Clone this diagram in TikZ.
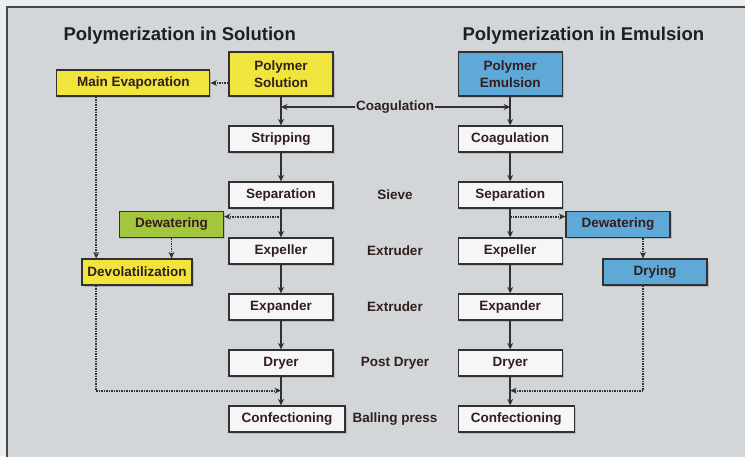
\documentclass[tikz,border=0pt]{standalone}
\usepackage{fontspec}
\setmainfont{Liberation Sans}
\usetikzlibrary{positioning, arrows.meta, shadows}

\definecolor{pagebg}{RGB}{236,237,238}
\definecolor{framebg}{RGB}{211,214,217}
\definecolor{frameline}{RGB}{70,72,75}
\definecolor{boxline}{RGB}{50,48,50}
\definecolor{textdark}{RGB}{50,30,30}
\definecolor{stepfill}{RGB}{246,246,247}
\definecolor{solyellow}{RGB}{240,229,60}
\definecolor{dewgreen}{RGB}{163,198,60}
\definecolor{emulblue}{RGB}{95,169,217}

\tikzset{
	flowpicture/.style = {
		x = 1pt,
		y = -1pt,
		node distance = 28.8pt and 124pt,
		font = \bfseries\fontsize{13.5}{16.5}\selectfont,
		text = textdark,
		arrow/.style = {
			draw = boxline,
			line width = 1.8pt,
			-{Stealth[length = 6.5pt, width = 6pt]}
		},
		dotarrow/.style = {
			dash pattern = on 1.5pt off 1pt
		}
	},
	stepnode/.style = {
		draw = boxline,
		line width = 1.2pt,
		fill = stepfill,
		minimum width = 104pt,
		minimum height = 26pt,
		inner sep = 2pt,
		align = center,
		drop shadow = {shadow xshift = 1.5pt, shadow yshift = -1.5pt, opacity = 0.35}
	},
	solnode/.style = {
		stepnode,
		fill = solyellow
	},
	emulnode/.style = {
		stepnode,
		fill = emulblue
	},
	dewnode/.style = {
		stepnode,
		fill = dewgreen
	},
	titlenode/.style = {
		anchor = west,
		text = black!88,
		font = \bfseries\fontsize{18.5}{20}\selectfont
	},
	devicelabel/.style = {
		inner sep = 1pt
	}
}

\begin{document}
\begin{tikzpicture}[flowpicture]
	\useasboundingbox (0,0) rectangle (745,456);
	\clip (0,0) rectangle (745,456);
	\fill[pagebg] (0,0) rectangle (745,456);
	\draw[frameline, fill = framebg, line width = 1.2pt] (7,7) rectangle (760,470);

	\node[titlenode] (TitleSol) at (60,36) {Polymerization in Solution};
	\node[titlenode] (TitleEmul) at (459,36) {Polymerization in Emulsion};

	% solution line
	\node[solnode, minimum height = 44pt] (PS) at (281,74) {Polymer\\Solution};
	\node[stepnode, below = of PS] (StripL) {Stripping};
	\node[stepnode, below = of StripL] (SepL) {Separation};
	\node[stepnode, below = of SepL] (ExpelL) {Expeller};
	\node[stepnode, below = of ExpelL] (ExpandL) {Expander};
	\node[stepnode, below = of ExpandL] (DryerL) {Dryer};
	\node[stepnode, minimum width = 116pt, below = of DryerL.south west, anchor = north west] (ConfL) {Confectioning};

	\node[solnode, minimum width = 153pt, left = 18pt of PS.south west, anchor = south east] (MainEvap) {Main Evaporation};
	\node[dewnode] (DewL) at (171.5,224.5) {Dewatering};
	\node[solnode, minimum width = 110pt] (Devol) at (137,272) {Devolatilization};

	% emulsion line
	\node[emulnode, minimum height = 44pt, right = of PS] (PE) {Polymer\\Emulsion};
	\node[stepnode, below = of PE] (CoagR) {Coagulation};
	\node[stepnode, below = of CoagR] (SepR) {Separation};
	\node[stepnode, below = of SepR] (ExpelR) {Expeller};
	\node[stepnode, below = of ExpelR] (ExpandR) {Expander};
	\node[stepnode, below = of ExpandR] (DryerR) {Dryer};
	\node[stepnode, minimum width = 116pt, below = of DryerR.south west, anchor = north west] (ConfR) {Confectioning};

	\node[emulnode] (DewR) at (618,224.5) {Dewatering};
	\node[emulnode] (Drying) at (655,272) {Drying};

	% machines in the middle
	\coordinate (midcol) at (395,0);
	\node[devicelabel] (CoagLbl) at (395,107) {Coagulation};
	\node[devicelabel] (SieveLbl) at (midcol |- SepL) {Sieve};
	\node[devicelabel] (ExtrA) at (midcol |- ExpelL) {Extruder};
	\node[devicelabel] (ExtrB) at (midcol |- ExpandL) {Extruder};
	\node[devicelabel] (PostDry) at (midcol |- DryerL) {Post Dryer};
	\node[devicelabel] (Balling) at (midcol |- ConfL) {Balling press};

	\coordinate (evapdrop) at ([xshift = 40pt]MainEvap.south west);
	\coordinate[below = 8pt of SepL] (splitL);
	\coordinate[below = 8pt of SepR] (splitR);
	\coordinate[below = 14pt of DryerL] (mergeL);
	\coordinate[below = 14pt of DryerR] (mergeR);
	\coordinate (dryfeed) at ([xshift = 25pt]DewR.south);

	\begin{scope}[every path/.style = arrow]
		\path (PS) to (StripL);
		\path (StripL) to (SepL);
		\path (SepL) to (ExpelL);
		\path (ExpelL) to (ExpandL);
		\path (ExpandL) to (DryerL);
		\path (DryerL.south) to (DryerL.south |- ConfL.north);

		\path (PE) to (CoagR);
		\path (CoagR) to (SepR);
		\path (SepR) to (ExpelR);
		\path (ExpelR) to (ExpandR);
		\path (ExpandR) to (DryerR);
		\path (DryerR.south) to (DryerR.south |- ConfR.north);

		\path (CoagLbl.west) -- (CoagLbl.west -| PS.south);
		\path (CoagLbl.east) -- (CoagLbl.east -| PE.south);

		\path[dotarrow] (PS.west |- MainEvap) -- (MainEvap.east);
		\path[dotarrow] (evapdrop) -- (evapdrop |- Devol.north);
		\path[dotarrow] (splitL) -- (splitL -| DewL.east);
		\path[dotarrow] (DewL.south) -- (DewL.south |- Devol.north);
		\path[dotarrow] (evapdrop |- Devol.south) |- (mergeL);

		\path[dotarrow] (splitR) -- (splitR -| DewR.west);
		\path[dotarrow] (dryfeed) -- (dryfeed |- Drying.north);
		\path[dotarrow] (dryfeed |- Drying.south) |- (mergeR);
	\end{scope}
\end{tikzpicture}
\end{document}
